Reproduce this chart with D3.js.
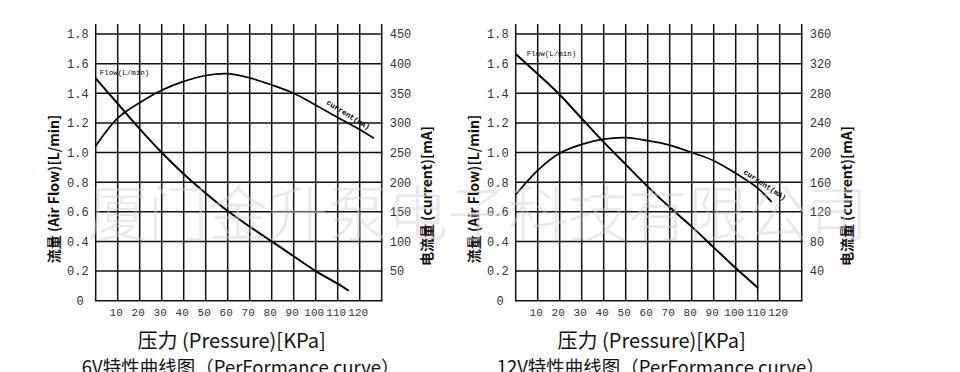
<!DOCTYPE html>
<html><head><meta charset="utf-8">
<script src="https://cdn.jsdelivr.net/npm/d3@7"></script>
<style>body{margin:0;background:#fff}svg{display:block}</style>
</head><body>
<svg id="c" width="960" height="372"></svg>
<script>
// ---------- data ----------
const gridPressure = [0,10,20,30,40,50,60,70,80,90,100,110,120,130];
const pressureTicks = [10,20,30,40,50,60,70,80,90,100,110,120];
const flowTicks = [0,0.2,0.4,0.6,0.8,1.0,1.2,1.4,1.6,1.8];
const current6VTicks = [50,100,150,200,250,300,350,400,450];
const current12VTicks = [40,80,120,160,200,240,280,320,360];

const flow6V_pressure = [0,10,20,30,40,50,60,70,80,90,100,110,115];
const flow6V          = [1.5,1.33,1.16,1.0,0.855,0.725,0.605,0.5,0.4,0.3,0.2,0.115,0.067];
const current6V_pressure = [0,10,20,30,40,50,60,70,80,90,100,110,120,126.5];
const current6V          = [261,308,334,355,370,380,383,376,364,350,330,309,289,274];

const flow12V_pressure = [0,10,20,30,40,50,60,70,80,90,100,110.3];
const flow12V          = [1.665,1.53,1.39,1.23,1.07,0.92,0.77,0.63,0.5,0.36,0.22,0.084];
const current12V_pressure = [0,10,20,30,40,50,60,70,80,90,100,110,116.4];
const current12V          = [143,176,199,211,218,220,216,210,200,189,172,152,133];

const xAxisTitle = "压力 (Pressure)[KPa]";
const leftAxisTitle = "流量 (Air Flow)[L/min]";
const rightAxisTitle = "电流量 (current)[mA]";
const panelTitles = ["6V特性曲线图（PerFormance curve）", "12V特性曲线图（PerFormance curve）"];
const flowLabel = "Flow(L/min)";
const currentLabel = "current(mA)";
const watermark = "厦门金升泵电子科技有限公司";

// ---------- drawing ----------
const svg = d3.select("#c");
const panels = [
  {left: 95.7, title: panelTitles[0], cMax: 450, cTicks: current6VTicks,
   fp: flow6V_pressure, fv: flow6V, cp: current6V_pressure, cv: current6V,
   flDx: 4, flDy: -3, clP: 113, clAng: 32},
  {left: 515.7, title: panelTitles[1], cMax: 360, cTicks: current12VTicks,
   fp: flow12V_pressure, fv: flow12V, cp: current12V_pressure, cv: current12V,
   flDx: 11, flDy: 2, clP: 111.4, clAng: 34}
];
const yBottom = 300.7, yTop = 34, gridTop = 24;
const monoFont = "'Liberation Mono','DejaVu Sans Mono',monospace";
const cjkFont = "'Noto Sans CJK SC','Noto Sans',sans-serif";

panels.forEach(p => {
  const x = d3.scaleLinear().domain([0,130]).range([p.left, p.left + 286]);
  const y = d3.scaleLinear().domain([0,1.8]).range([yBottom, yTop]);
  const yc = d3.scaleLinear().domain([0,p.cMax]).range([yBottom, yTop]);
  const g = svg.append("g");

  // grid
  g.append("g").selectAll("line").data(gridPressure).join("line")
    .attr("x1", d => x(d)).attr("x2", d => x(d))
    .attr("y1", gridTop).attr("y2", yBottom)
    .attr("stroke", "#111").attr("stroke-width", 1.5);
  g.append("g").selectAll("line").data(flowTicks).join("line")
    .attr("x1", x(0) - 0.75).attr("x2", x(130) + 0.75)
    .attr("y1", d => y(d)).attr("y2", d => y(d))
    .attr("stroke", "#111").attr("stroke-width", 1.5);

  // axes
  const ax = g.append("g").attr("transform", `translate(-2,${yBottom})`)
    .call(d3.axisBottom(x).tickValues(pressureTicks).tickSize(0).tickPadding(8));
  const ay = g.append("g").attr("transform", `translate(${x(0)},0)`)
    .call(d3.axisLeft(y).tickValues(flowTicks).tickSize(0).tickPadding(7)
      .tickFormat(d => d === 0 ? "0" : d3.format(".1f")(d)));
  const ar = g.append("g").attr("transform", `translate(${x(130)},0)`)
    .call(d3.axisRight(yc).tickValues(p.cTicks).tickSize(0).tickPadding(8));
  [ax, ay, ar].forEach(a => {
    a.select(".domain").remove();
    a.selectAll("text").attr("font-family", monoFont).attr("font-size", 12).attr("fill", "#333");
  });
  ax.selectAll("text").attr("font-size", 11);
  ay.selectAll(".tick").filter(d => d === 0).select("text").attr("x", -12);

  // curves
  const line = d3.line().curve(d3.curveCatmullRom.alpha(0.5));
  g.append("path")
    .attr("d", line(p.fp.map((v,i) => [x(v), y(p.fv[i])])))
    .attr("fill", "none").attr("stroke", "#000").attr("stroke-width", 2);
  g.append("path")
    .attr("d", line(p.cp.map((v,i) => [x(v), yc(p.cv[i])])))
    .attr("fill", "none").attr("stroke", "#000").attr("stroke-width", 1.7);

  // labels on curves
  g.append("text").text(flowLabel)
    .attr("x", x(p.fp[0]) + p.flDx).attr("y", y(p.fv[0]) + p.flDy)
    .attr("font-family", monoFont).attr("font-size", 7.5).attr("fill", "#000");
  const cInterp = d3.scaleLinear().domain(p.cp).range(p.cv);
  const lx = x(p.clP), ly = yc(cInterp(p.clP));
  g.append("text").text(currentLabel)
    .attr("transform", `translate(${lx},${ly}) rotate(${p.clAng}) translate(0,-5)`)
    .attr("text-anchor", "middle")
    .attr("font-family", monoFont).attr("font-size", 7.5).attr("font-weight", "bold").attr("fill", "#000");

  // axis titles
  const cx = (x(0) + x(130)) / 2;
  g.append("text").text(xAxisTitle)
    .attr("x", cx - 7).attr("y", 348).attr("text-anchor", "middle")
    .attr("font-family", cjkFont).attr("font-size", 20).attr("fill", "#111");
  g.append("text").text(p.title)
    .attr("x", cx + 2).attr("y", 374).attr("text-anchor", "middle")
    .attr("font-family", cjkFont).attr("font-size", 18.5).attr("fill", "#111");
  g.append("text").text(leftAxisTitle)
    .attr("transform", `translate(${x(0) - 43},189) rotate(-90)`)
    .attr("text-anchor", "middle").attr("dominant-baseline", "central")
    .attr("font-family", cjkFont).attr("font-size", 14).attr("font-weight", "bold").attr("fill", "#111");
  g.append("text").text(rightAxisTitle)
    .attr("transform", `translate(${x(130) + 44},196) rotate(-90)`)
    .attr("text-anchor", "middle").attr("dominant-baseline", "central")
    .attr("font-family", cjkFont).attr("font-size", 14).attr("font-weight", "bold").attr("fill", "#111");
});

// watermark
svg.append("text").text(watermark)
  .attr("x", 88).attr("y", 236)
  .attr("font-family", cjkFont).attr("font-size", 60).attr("font-weight", 300)
  .attr("fill", "#cfcfcf").attr("opacity", 0.45);
</script>
</body></html>
